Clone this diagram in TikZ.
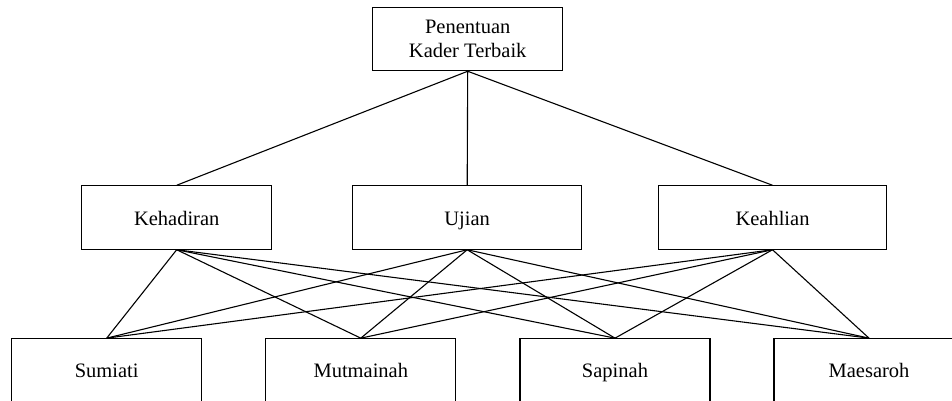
\documentclass[tikz,border=0pt]{standalone}
\usepackage{fontspec}
\setmainfont{Liberation Serif}
\begin{document}
\begin{tikzpicture}[x=1pt,y=-1pt,
  box/.style={draw,line width=1.1pt,inner sep=0pt,minimum height=63.4pt,
    font=\fontsize{20.5}{24}\selectfont,text height=16pt,text depth=1pt},
  wbox/.style={box,minimum width=190pt},
  ubox/.style={box,minimum width=229pt},
  conn/.style={line width=1.1pt}]
\useasboundingbox (0,0) rectangle (952,401);
\clip (0,0) rectangle (952,401);
\fill[white] (0,0) rectangle (952,401);
\node[draw,line width=1.1pt,inner sep=0pt,minimum height=63.4pt,minimum width=190pt,
  align=center,font=\fontsize{20.5}{24}\selectfont] (top) at (467.7,39) {Penentuan\\Kader Terbaik};
\node[wbox] (keh) at (176.7,217.5) {Kehadiran};
\node[ubox] (uji) at (467.2,217.5) {Ujian};
\node[ubox,minimum width=228.4pt] (kea) at (772.5,217.5) {Keahlian};
\node[wbox] (sum) at (106.7,370.4) {Sumiati};
\node[wbox] (mut) at (360.8,370.4) {Mutmainah};
\node[wbox] (sap) at (615,370.4) {Sapinah};
\node[wbox] (mae) at (869,370.4) {Maesaroh};
\foreach \m in {keh,uji,kea}{
  \draw[conn] (top.south) -- (\m.north);
  \foreach \b in {sum,mut,sap,mae}{
    \draw[conn] (\m.south) -- (\b.north);
  }
}
\end{tikzpicture}
\end{document}
